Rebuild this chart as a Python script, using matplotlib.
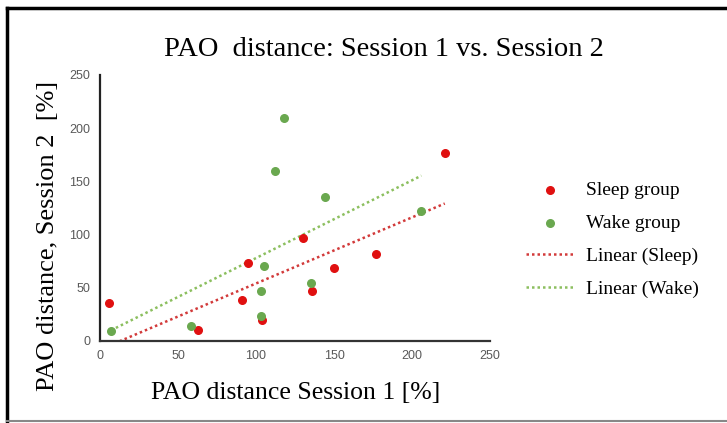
import matplotlib.pyplot as plt
import numpy as np

# values
sleep_x = [6, 63, 91, 95, 104, 130, 136, 150, 177, 221]
sleep_y = [35, 10, 38, 73, 19, 97, 47, 68, 82, 177]
wake_x = [7, 58, 103, 103, 105, 112, 118, 135, 144, 206]
wake_y = [9, 14, 47, 23, 70, 160, 210, 54, 135, 122]

red = '#e01010'
green = '#6aa84f'

fig = plt.figure(figsize=(7.27, 4.23), dpi=100)
ax = fig.add_axes([0.1376, 0.1946, 0.5364, 0.6281])

ax.scatter(sleep_x, sleep_y, s=30, color=red, label='Sleep group', zorder=3)
ax.scatter(wake_x, wake_y, s=30, color=green, label='Wake group', zorder=3)

# linear trendlines
for xs, ys, c, lab in [(sleep_x, sleep_y, '#d23a3a', 'Linear (Sleep)'),
                       (wake_x, wake_y, '#8cbf5f', 'Linear (Wake)')]:
    m, b = np.polyfit(xs, ys, 1)
    xx = np.array([min(xs), max(xs)])
    ax.plot(xx, m * xx + b, linestyle=(0, (1, 1.2)), linewidth=1.8, color=c, label=lab)

ax.set_xlim(0, 250)
ax.set_ylim(0, 250)
ax.set_xticks([0, 50, 100, 150, 200, 250])
ax.set_yticks([0, 50, 100, 150, 200, 250])
ax.tick_params(length=0, labelsize=9, labelcolor='#595959', pad=7)
for lbl in ax.get_xticklabels() + ax.get_yticklabels():
    lbl.set_family('Liberation Sans')
for s in ['top', 'right']:
    ax.spines[s].set_visible(False)
ax.spines['left'].set_color('#222222')
ax.spines['bottom'].set_color('#333333')
ax.spines['left'].set_linewidth(1.6)
ax.spines['bottom'].set_linewidth(1.6)

serif = 'Liberation Serif'
fig.text(0.528, 0.884, 'PAO  distance: Session 1 vs. Session 2', ha='center', va='center',
         family=serif, fontsize=20.5)
fig.text(0.406, 0.072, 'PAO distance Session 1 [%]', ha='center', va='center',
         family=serif, fontsize=18.5)
fig.text(0.066, 0.443, 'PAO distance, Session 2  [%]', ha='center', va='center',
         rotation=90, family=serif, fontsize=19)

leg = fig.legend(loc='center left', bbox_to_anchor=(0.70, 0.433), frameon=False,
                 prop={'family': serif, 'size': 14}, handlelength=2.4,
                 handletextpad=0.65, labelspacing=0.78, scatterpoints=1)

# outer frame like the source image
fig.add_artist(plt.Line2D([0.009, 0.009], [0.004, 0.982], color='black', lw=2.5,
                          transform=fig.transFigure))
fig.add_artist(plt.Line2D([0.009, 1.0], [0.982, 0.982], color='black', lw=2.5,
                          transform=fig.transFigure))
fig.add_artist(plt.Line2D([0.009, 1.0], [0.004, 0.004], color='#888888', lw=1.5,
                          transform=fig.transFigure))

fig.savefig('out.png', dpi=100)
